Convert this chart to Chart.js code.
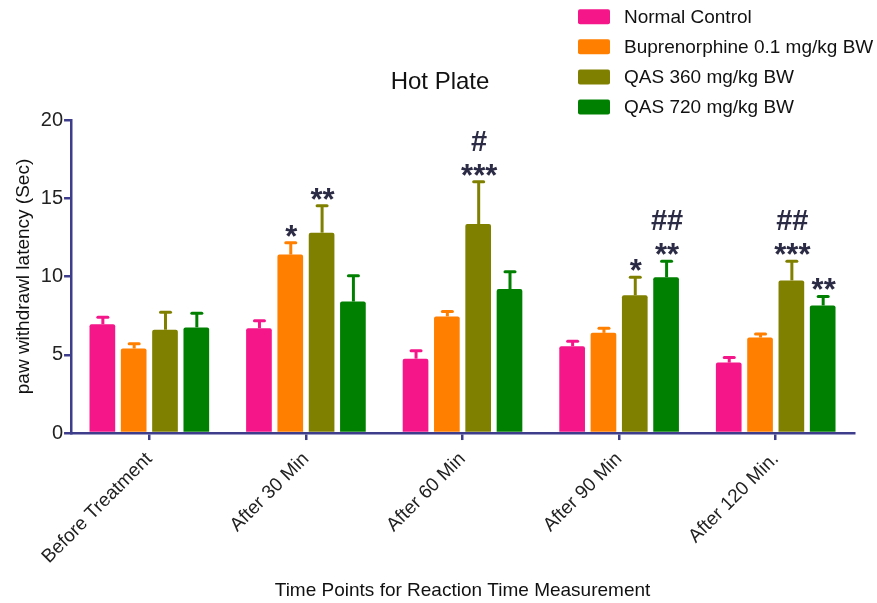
<!DOCTYPE html>
<html><head><meta charset="utf-8">
<script src="https://cdn.jsdelivr.net/npm/chart.js@4.4.1/dist/chart.umd.min.js"></script>
<style>html,body{margin:0;padding:0;background:#fff}#wrap{width:877px;height:603px}</style>
</head><body><div id="wrap"><canvas id="c" width="877" height="603"></canvas></div>
<script>
const categories = ['Before Treatment', 'After 30 Min', 'After 60 Min', 'After 90 Min', 'After 120 Min.'];
const seriesNames = ['Normal Control', 'Buprenorphine 0.1 mg/kg BW', 'QAS 360 mg/kg BW', 'QAS 720 mg/kg BW'];
const normalControl = [6.95, 6.7, 4.75, 5.55, 4.5];
const buprenorphine = [5.4, 11.4, 7.45, 6.4, 6.1];
const qas360 = [6.6, 12.8, 13.35, 8.8, 9.75];
const qas720 = [6.75, 8.4, 9.2, 9.95, 8.15];
const semNormal = [0.45, 0.47, 0.5, 0.32, 0.32];
const semBup = [0.3, 0.75, 0.32, 0.3, 0.22];
const semQ360 = [1.12, 1.72, 2.7, 1.15, 1.22];
const semQ720 = [0.9, 1.65, 1.1, 1.03, 0.58];
const starsNormal = ['', '', '', '', ''];
const starsBup = ['', '*', '', '', ''];
const starsQ360 = ['', '**', '***', '*', '***'];
const starsQ720 = ['', '', '', '**', '**'];
const hashNormal = ['', '', '', '', ''];
const hashBup = ['', '', '', '', ''];
const hashQ360 = ['', '', '#', '', '##'];
const hashQ720 = ['', '', '', '##', ''];
const yTicks = [0, 5, 10, 15, 20];
const colors = ['#F5168A', '#FF7F00', '#808000', '#008000'];
const chartTitle = 'Hot Plate';

const FONT = "'Liberation Sans', Arial, Helvetica, sans-serif";
const AXIS = '#3D3D8C';
const values = [normalControl, buprenorphine, qas360, qas720];
const sems = [semNormal, semBup, semQ360, semQ720];
const stars = [starsNormal, starsBup, starsQ360, starsQ720];
const hashes = [hashNormal, hashBup, hashQ360, hashQ720];

const errorBarPlugin = {
  id: 'errorBars',
  afterDatasetsDraw(chart) {
    const ctx = chart.ctx, y = chart.scales.y;
    chart.data.datasets.forEach((ds, di) => {
      const meta = chart.getDatasetMeta(di);
      meta.data.forEach((bar, i) => {
        const top = y.getPixelForValue(ds.data[i] + sems[di][i]);
        ctx.save();
        ctx.strokeStyle = ds.backgroundColor;
        ctx.lineWidth = 3;
        ctx.beginPath();
        ctx.moveTo(bar.x + 0.5, bar.y);
        ctx.lineTo(bar.x + 0.5, top);
        ctx.stroke();
        ctx.lineCap = 'round';
        ctx.beginPath();
        ctx.moveTo(bar.x - 4.5, top);
        ctx.lineTo(bar.x + 5.5, top);
        ctx.stroke();
        ctx.restore();
      });
    });
  }
};

function drawCentered(ctx, txt, x, cy) {
  const m = ctx.measureText(txt);
  const base = cy + (m.actualBoundingBoxAscent - m.actualBoundingBoxDescent) / 2;
  ctx.fillText(txt, x, base);
}

const sigPlugin = {
  id: 'sigLabels',
  afterDatasetsDraw(chart) {
    const ctx = chart.ctx, y = chart.scales.y;
    chart.data.datasets.forEach((ds, di) => {
      const meta = chart.getDatasetMeta(di);
      meta.data.forEach((bar, i) => {
        const top = y.getPixelForValue(ds.data[i] + sems[di][i]);
        ctx.save();
        ctx.fillStyle = '#2B2B45';
        ctx.textAlign = 'center';
        ctx.textBaseline = 'alphabetic';
        ctx.font = 'bold 31px ' + FONT;
        if (stars[di][i]) drawCentered(ctx, stars[di][i], bar.x + 1, top - 12);
        ctx.font = 'bold 29px ' + FONT;
        if (hashes[di][i]) drawCentered(ctx, hashes[di][i], bar.x + 1, top - 41);
        ctx.restore();
      });
    });
  }
};

const legendPlugin = {
  id: 'sideLegend',
  afterDraw(chart) {
    const ctx = chart.ctx;
    chart.data.datasets.forEach((ds, i) => {
      const cy = 16.7 + i * 30.1;
      ctx.save();
      ctx.fillStyle = ds.backgroundColor;
      ctx.beginPath();
      ctx.roundRect(578, cy - 7.5, 32, 15, 2);
      ctx.fill();
      ctx.fillStyle = '#111';
      ctx.font = '19px ' + FONT;
      ctx.textBaseline = 'middle';
      ctx.textAlign = 'left';
      ctx.fillText(ds.label, 624, cy + 1.2);
      ctx.restore();
    });
    ctx.save();
    ctx.fillStyle = '#111';
    ctx.font = '24px ' + FONT;
    ctx.textAlign = 'center';
    ctx.textBaseline = 'middle';
    ctx.fillText(chartTitle, 440, 82);
    ctx.restore();
  }
};

new Chart(document.getElementById('c'), {
  type: 'bar',
  data: {
    labels: categories,
    datasets: values.map((v, i) => ({
      label: seriesNames[i],
      data: v,
      backgroundColor: colors[i],
      borderWidth: 0,
      borderRadius: 2,
      borderSkipped: 'bottom',
      categoryPercentage: 0.8,
      barPercentage: 0.82
    }))
  },
  options: {
    responsive: false,
    devicePixelRatio: 1,
    animation: false,
    layout: { padding: { top: 120, left: 8, right: 23, bottom: 1 } },
    plugins: {
      legend: { display: false },
      tooltip: { enabled: false },
      title: { display: false }
    },
    scales: {
      x: {
        offset: true,
        grid: { display: true, drawOnChartArea: false, drawTicks: true, tickLength: 7, offset: false, color: AXIS, lineWidth: 2.5 },
        border: { display: true, color: AXIS, width: 2.5 },
        ticks: { minRotation: 45, maxRotation: 45, color: '#222', padding: 8, font: { family: FONT, size: 19 } },
        title: { display: true, text: 'Time Points for Reaction Time Measurement', color: '#111', font: { family: FONT, size: 19 }, padding: { top: 3, bottom: 0 } }
      },
      y: {
        min: 0, max: 20,
        afterBuildTicks(scale) { scale.ticks = yTicks.map(v => ({ value: v })); },
        grid: { display: true, drawOnChartArea: false, drawTicks: true, tickLength: 7, color: AXIS, lineWidth: 2.5 },
        border: { display: true, color: AXIS, width: 2.5 },
        ticks: { color: '#222', padding: 1, font: { family: FONT, size: 20 } },
        title: { display: true, text: 'paw withdrawl latency (Sec)', color: '#111', font: { family: FONT, size: 19 }, padding: { top: 4, bottom: 5 } }
      }
    }
  },
  plugins: [errorBarPlugin, sigPlugin, legendPlugin]
});
</script>
</body></html>
